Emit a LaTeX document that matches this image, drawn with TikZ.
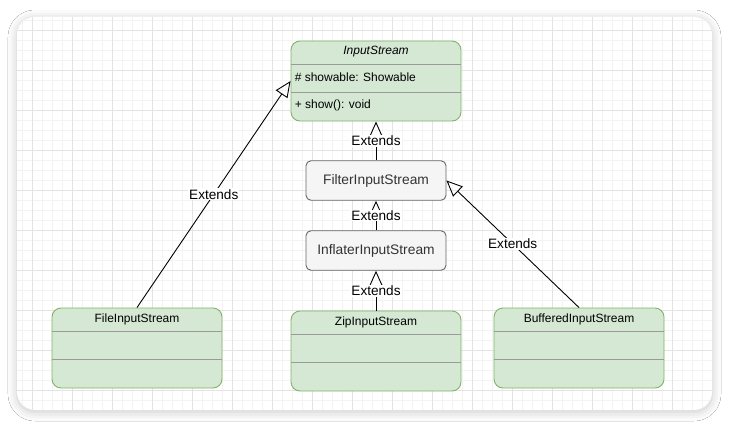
\documentclass[tikz,border=0pt]{standalone}
\usepackage{fontspec}
\setmainfont{Liberation Sans}
\usetikzlibrary{arrows.meta,shadows.blur,positioning}

\definecolor{ClassFill}{HTML}{D5E8D4}
\definecolor{ClassLine}{HTML}{82B366}
\definecolor{FilterFill}{HTML}{F5F5F5}
\definecolor{FilterLine}{HTML}{666666}
\definecolor{FilterText}{HTML}{333333}
\definecolor{RowLine}{HTML}{9A9A9A}
\definecolor{GridMinor}{HTML}{F3F3F3}
\definecolor{GridMajor}{HTML}{E3E3E3}

\tikzset{
    classbox/.style={draw=ClassLine, fill=ClassFill, line width=0.9pt, rounded corners=9pt,
        minimum width=170pt, minimum height=80pt, inner sep=0pt},
    filterbox/.style={draw=FilterLine, fill=FilterFill, line width=0.9pt, rounded corners=5pt,
        minimum width=140pt, minimum height=39.5pt, text=FilterText,
        font=\fontsize{13.8}{16}\selectfont},
    classname/.style={inner sep=0pt, font=\fontsize{12}{14}\selectfont},
    member/.style={anchor=west, inner sep=0pt, font=\fontsize{12}{14}\selectfont},
    rowsep/.style={draw=RowLine, line width=0.9pt},
    extends/.style={draw=black, line width=0.9pt, -{Triangle[open, length=16pt, width=14pt]}},
    extlabel/.style={fill=white, inner sep=1pt, pos=.5, font=\fontsize{13.6}{16}\selectfont},
}

\begin{document}
\begin{tikzpicture}[x=1pt, y=-1pt]
\useasboundingbox (0,0) rectangle (730,428);
\fill[white] (0,0) rectangle (730,428);

% ============================
\fill[white, rounded corners=18pt, blur shadow={shadow xshift=0pt, shadow yshift=-2pt,
        shadow blur radius=9pt, shadow opacity=22}]
    (17,17) rectangle (712,410);

\begin{scope}
    \clip[rounded corners=18pt] (17,17) rectangle (712,410);
    \foreach \x in {22,32,...,702} \draw[GridMinor, line width=0.8pt] (\x,17) -- (\x,410);
    \foreach \y in {20,30,...,400} \draw[GridMinor, line width=0.8pt] (17,\y) -- (712,\y);
    \foreach \x in {32,72,...,672} \draw[GridMajor, line width=0.8pt] (\x,17) -- (\x,410);
    \foreach \y in {30,70,...,390} \draw[GridMajor, line width=0.8pt] (17,\y) -- (712,\y);
\end{scope}

% ============================
\node[classbox] (input) at (376,81) {};
\node[classbox] (file) at (137,348) {};
\node[classbox] (zip) at (376,351) {};
\node[classbox] (buffered) at (579,348) {};

\foreach \n in {input,file,zip,buffered}
    \draw[rowsep] ([yshift=-24pt]\n.north west) -- ([yshift=-24pt]\n.north east)
                  ([yshift=-52pt]\n.north west) -- ([yshift=-52pt]\n.north east);

\node[classname, font=\fontsize{12}{14}\selectfont\itshape] (inputname)
    at ([yshift=-11pt]input.north) {InputStream};
\node[member] (inputattr) at ([xshift=4pt, yshift=-37pt]input.north west) {\# showable: Showable};
\node[member] (inputop) at ([xshift=4pt, yshift=-65pt]input.north west) {+ show(): void};

\node[classname] (filename) at ([yshift=-11.5pt]file.north) {FileInputStream};
\node[classname] (zipname) at ([yshift=-11.5pt]zip.north) {ZipInputStream};
\node[classname] (bufferedname) at ([yshift=-11.5pt]buffered.north) {BufferedInputStream};

% ============================
\node[filterbox] (filter) at (376,180.5) {FilterInputStream};
\node[filterbox] (inflater) at (376,250.5) {InflaterInputStream};

% ============================
\draw[extends] (file.north) -- (input.west) node[extlabel] {Extends};
\draw[extends] (buffered.north) -- (filter.east) node[extlabel] {Extends};
\draw[extends] (filter.north) -- (input.south) node[extlabel] {Extends};
\draw[extends] (inflater.north) -- (filter.south) node[extlabel] {Extends};
\draw[extends] (zip.north) -- (inflater.south) node[extlabel] {Extends};

\end{tikzpicture}
\end{document}
